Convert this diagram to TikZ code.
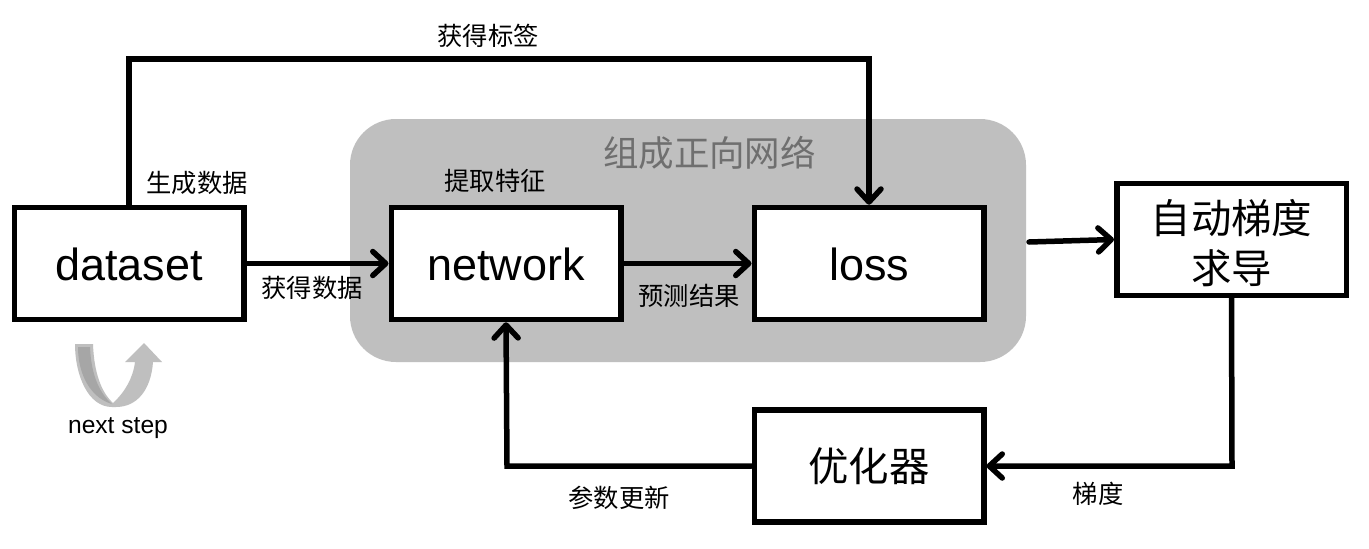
\documentclass[tikz,border=0pt]{standalone}
\usepackage{fontspec}
\setmainfont{Liberation Sans}
\newfontfamily\cjk{Noto Sans CJK SC}
\usetikzlibrary{arrows.meta,calc}
\definecolor{groupgray}{HTML}{BFBFBF}
\definecolor{innergray}{HTML}{A6A6A6}
\definecolor{grouptext}{HTML}{6F6F6F}
\newcommand{\lowertext}[1]{\raisebox{-0.33cm}[0pt][0pt]{#1}}
\tikzset{
  x=0.02cm,y=-0.02cm,
  mainbox/.style={draw=black,fill=white,line width=5.5*0.02cm,minimum width=229.5*0.02cm,minimum height=112*0.02cm,inner sep=0pt,align=center,font=\fontsize{25.6}{30}\selectfont},
  cjkbox/.style={mainbox,font=\cjk\fontsize{23}{28.5}\selectfont},
  conn/.style={draw=black,line width=5.5*0.02cm,line cap=round,line join=miter,-{Straight Barb[length=13*0.02cm,width=24*0.02cm,line width=5.5*0.02cm,round]}},
  lab/.style={inner sep=0pt,font=\cjk\fontsize{14.4}{16}\selectfont,text=black},
}
\begin{document}
\begin{tikzpicture}
\useasboundingbox (0,0) rectangle (1369,548);
\node[fill=white,minimum width=1369*0.02cm,minimum height=548*0.02cm,inner sep=0pt,outer sep=0pt] (bg) at (684.5,274) {};
\node[fill=groupgray,rounded corners=46*0.02cm,minimum width=676*0.02cm,minimum height=243*0.02cm,inner sep=0pt,outer sep=0pt] (group) at (688,240.5) {};
\node[inner sep=0pt,font=\cjk\fontsize{20.2}{24}\selectfont,text=grouptext] (grouplab) at (709.5,153) {组成正向网络};
\node[mainbox] (dataset) at (129,263.5) {\lowertext{dataset}};
\node[mainbox] (network) at (506,263.5) {\lowertext{network}};
\node[mainbox] (loss) at (869,263.5) {\lowertext{loss}};
\node[cjkbox] (auto) at (1231.5,239.5) {\rule{0pt}{23pt}自动梯度\\求导};
\node[cjkbox] (opt) at (869,466) {优化器};
\coordinate (topL) at (129,59);
\coordinate (topR) at (869,59);
\coordinate (optR) at (1232,466);
\coordinate (optL) at (507,466);
\draw[conn] (dataset.north) -- (topL) -- (topR) -- (loss.north);
\draw[conn] (dataset.east) -- (network.west);
\draw[conn] (network.east) -- (loss.west);
\draw[conn] ($(group.east)+(3,1.5)$) -- (auto.west);
\draw[conn] (auto.south) -- (optR) -- (opt.east);
\draw[conn] (opt.west) -- (optL) -- (network.south);
\node[lab] (l1) at (488,36) {获得标签};
\node[lab] (l2) at (197,183) {生成数据};
\node[lab] (l3) at (495,181) {提取特征};
\node[lab] (l4) at (312,288) {获得数据};
\node[lab] (l5) at (689,296) {预测结果};
\node[lab] (l6) at (619,498) {参数更新};
\node[lab] (l7) at (1098,494) {梯度};
\node[inner sep=0pt,font=\fontsize{14}{16}\selectfont] (nx) at (118,428) {next step};
% U-turn arrow
\fill[groupgray] (75,344) -- (93,344) .. controls (94,372) and (101,392) .. (113,403)
  .. controls (125,392) and (133,378) .. (135,362) -- (125,362) -- (144,343) -- (162,362) -- (153,362)
  .. controls (151,390) and (137,407) .. (116,407) -- (112,407) .. controls (88,407) and (75,375) .. (75,344) -- cycle;
\fill[innergray] (78,347) -- (90,347) .. controls (91,372) and (98,392) .. (112,404)
  .. controls (91,398) and (78,375) .. (78,347) -- cycle;
\end{tikzpicture}
\end{document}
